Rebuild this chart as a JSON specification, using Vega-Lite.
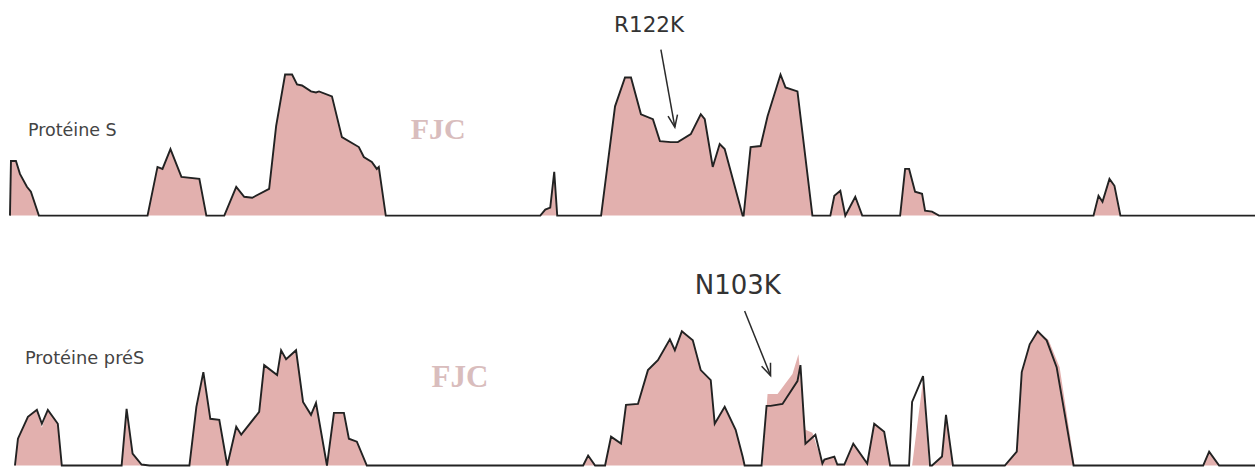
{
  "$schema": "https://vega.github.io/schema/vega-lite/v6.json",
  "autosize": {"type": "fit", "contains": "padding"},
  "width": 1259,
  "height": 470,
  "padding": 0,
  "background": "white",
  "config": {"view": {"stroke": null}},
  "datasets": {
    "topProfile": [
      {"x": 10, "v": 0}, {"x": 11, "v": 55}, {"x": 16, "v": 55}, {"x": 20, "v": 42}, {"x": 27, "v": 29}, {"x": 31, "v": 24}, {"x": 39, "v": 0},
      {"x": 148, "v": 0}, {"x": 158, "v": 49}, {"x": 163, "v": 47}, {"x": 171, "v": 67}, {"x": 182, "v": 39}, {"x": 200, "v": 37}, {"x": 207, "v": 0},
      {"x": 225, "v": 0}, {"x": 237, "v": 29}, {"x": 245, "v": 19}, {"x": 253, "v": 18}, {"x": 270, "v": 27}, {"x": 277, "v": 90}, {"x": 286, "v": 142}, {"x": 293, "v": 142}, {"x": 298, "v": 132}, {"x": 303, "v": 131}, {"x": 312, "v": 125}, {"x": 317, "v": 124}, {"x": 320, "v": 125}, {"x": 333, "v": 120}, {"x": 343, "v": 79}, {"x": 360, "v": 69}, {"x": 365, "v": 59}, {"x": 373, "v": 54}, {"x": 378, "v": 47}, {"x": 380, "v": 49}, {"x": 387, "v": 0},
      {"x": 542, "v": 0}, {"x": 547, "v": 6}, {"x": 552, "v": 8}, {"x": 556, "v": 44}, {"x": 559, "v": 0},
      {"x": 603, "v": 0}, {"x": 617, "v": 110}, {"x": 627, "v": 139}, {"x": 633, "v": 139}, {"x": 643, "v": 102}, {"x": 655, "v": 97}, {"x": 662, "v": 75}, {"x": 673, "v": 74}, {"x": 680, "v": 74}, {"x": 693, "v": 82}, {"x": 703, "v": 102}, {"x": 707, "v": 97}, {"x": 715, "v": 49}, {"x": 722, "v": 72}, {"x": 727, "v": 67}, {"x": 745, "v": 0},
      {"x": 746, "v": 0}, {"x": 753, "v": 69}, {"x": 763, "v": 70}, {"x": 770, "v": 100}, {"x": 783, "v": 142}, {"x": 788, "v": 129}, {"x": 800, "v": 125}, {"x": 815, "v": 0},
      {"x": 833, "v": 0}, {"x": 837, "v": 20}, {"x": 843, "v": 25}, {"x": 848, "v": 0}, {"x": 858, "v": 19}, {"x": 865, "v": 0},
      {"x": 903, "v": 0}, {"x": 908, "v": 47}, {"x": 912, "v": 47}, {"x": 918, "v": 24}, {"x": 925, "v": 22}, {"x": 928, "v": 5}, {"x": 935, "v": 4}, {"x": 942, "v": 0},
      {"x": 1097, "v": 0}, {"x": 1102, "v": 20}, {"x": 1106, "v": 14}, {"x": 1113, "v": 37}, {"x": 1118, "v": 30}, {"x": 1124, "v": 0},
      {"x": 1259, "v": 0}
    ],
    "botLine": [
      {"x": 15, "v": 0}, {"x": 18, "v": 27}, {"x": 28, "v": 49}, {"x": 37, "v": 56}, {"x": 42, "v": 42}, {"x": 48, "v": 56}, {"x": 58, "v": 42}, {"x": 62, "v": 0},
      {"x": 122, "v": 0}, {"x": 127, "v": 57}, {"x": 133, "v": 12}, {"x": 142, "v": 1}, {"x": 150, "v": 0},
      {"x": 190, "v": 0}, {"x": 197, "v": 59}, {"x": 204, "v": 94}, {"x": 211, "v": 47}, {"x": 220, "v": 46}, {"x": 228, "v": 0},
      {"x": 237, "v": 39}, {"x": 242, "v": 31}, {"x": 260, "v": 54}, {"x": 265, "v": 101}, {"x": 278, "v": 91}, {"x": 282, "v": 116}, {"x": 287, "v": 107}, {"x": 297, "v": 116}, {"x": 304, "v": 64}, {"x": 312, "v": 51}, {"x": 317, "v": 63}, {"x": 328, "v": 0},
      {"x": 335, "v": 53}, {"x": 345, "v": 53}, {"x": 350, "v": 27}, {"x": 358, "v": 24}, {"x": 368, "v": 0},
      {"x": 585, "v": 0}, {"x": 590, "v": 10}, {"x": 597, "v": 0},
      {"x": 607, "v": 0}, {"x": 613, "v": 29}, {"x": 623, "v": 22}, {"x": 628, "v": 61}, {"x": 640, "v": 62}, {"x": 650, "v": 96}, {"x": 660, "v": 106}, {"x": 672, "v": 127}, {"x": 677, "v": 116}, {"x": 684, "v": 135}, {"x": 695, "v": 126}, {"x": 703, "v": 96}, {"x": 713, "v": 86}, {"x": 717, "v": 42}, {"x": 727, "v": 59}, {"x": 738, "v": 36}, {"x": 745, "v": 9}, {"x": 747, "v": 0},
      {"x": 764, "v": 0}, {"x": 769, "v": 60}, {"x": 773, "v": 60}, {"x": 785, "v": 62}, {"x": 800, "v": 85}, {"x": 803, "v": 101}, {"x": 808, "v": 22}, {"x": 818, "v": 31}, {"x": 825, "v": 2},
      {"x": 827, "v": 6}, {"x": 837, "v": 9}, {"x": 840, "v": 1}, {"x": 847, "v": 1}, {"x": 856, "v": 22}, {"x": 870, "v": 2}, {"x": 877, "v": 42}, {"x": 887, "v": 34}, {"x": 893, "v": 0},
      {"x": 912, "v": 0}, {"x": 915, "v": 64}, {"x": 926, "v": 90}, {"x": 933, "v": 0},
      {"x": 935, "v": 0}, {"x": 945, "v": 9}, {"x": 949, "v": 51}, {"x": 956, "v": 0},
      {"x": 1008, "v": 0}, {"x": 1020, "v": 14}, {"x": 1025, "v": 94}, {"x": 1033, "v": 122}, {"x": 1041, "v": 135}, {"x": 1050, "v": 126}, {"x": 1060, "v": 99}, {"x": 1077, "v": 0},
      {"x": 1207, "v": 0}, {"x": 1213, "v": 14}, {"x": 1223, "v": 0},
      {"x": 1259, "v": 0}
    ],
    "botFill": [
      {"x": 15, "v": 0}, {"x": 18, "v": 27}, {"x": 28, "v": 49}, {"x": 37, "v": 56}, {"x": 42, "v": 38}, {"x": 48, "v": 56}, {"x": 58, "v": 42}, {"x": 62, "v": 0},
      {"x": 122, "v": 0}, {"x": 127, "v": 57}, {"x": 133, "v": 12}, {"x": 142, "v": 1}, {"x": 150, "v": 0},
      {"x": 190, "v": 0}, {"x": 197, "v": 59}, {"x": 204, "v": 94}, {"x": 211, "v": 47}, {"x": 220, "v": 46}, {"x": 228, "v": 0},
      {"x": 237, "v": 39}, {"x": 242, "v": 31}, {"x": 260, "v": 54}, {"x": 265, "v": 101}, {"x": 278, "v": 91}, {"x": 282, "v": 116}, {"x": 287, "v": 107}, {"x": 297, "v": 116}, {"x": 304, "v": 64}, {"x": 312, "v": 51}, {"x": 317, "v": 63}, {"x": 328, "v": 0},
      {"x": 335, "v": 53}, {"x": 345, "v": 53}, {"x": 350, "v": 27}, {"x": 358, "v": 24}, {"x": 368, "v": 0},
      {"x": 585, "v": 0}, {"x": 590, "v": 10}, {"x": 597, "v": 0},
      {"x": 607, "v": 0}, {"x": 613, "v": 29}, {"x": 623, "v": 22}, {"x": 628, "v": 61}, {"x": 640, "v": 62}, {"x": 650, "v": 96}, {"x": 660, "v": 106}, {"x": 672, "v": 127}, {"x": 677, "v": 116}, {"x": 684, "v": 137}, {"x": 695, "v": 126}, {"x": 703, "v": 96}, {"x": 713, "v": 86}, {"x": 717, "v": 42}, {"x": 727, "v": 59}, {"x": 738, "v": 36}, {"x": 745, "v": 9}, {"x": 747, "v": 0},
      {"x": 765, "v": 0}, {"x": 770, "v": 72}, {"x": 780, "v": 72}, {"x": 795, "v": 92}, {"x": 801, "v": 112}, {"x": 808, "v": 36}, {"x": 815, "v": 33}, {"x": 825, "v": 2},
      {"x": 827, "v": 6}, {"x": 837, "v": 9}, {"x": 840, "v": 1}, {"x": 847, "v": 1}, {"x": 856, "v": 22}, {"x": 870, "v": 2}, {"x": 877, "v": 42}, {"x": 887, "v": 34}, {"x": 893, "v": 0},
      {"x": 915, "v": 0}, {"x": 926, "v": 86}, {"x": 932, "v": 0},
      {"x": 935, "v": 0}, {"x": 945, "v": 9}, {"x": 949, "v": 51}, {"x": 956, "v": 0},
      {"x": 1008, "v": 0}, {"x": 1020, "v": 14}, {"x": 1025, "v": 94}, {"x": 1033, "v": 122}, {"x": 1041, "v": 135}, {"x": 1052, "v": 126}, {"x": 1063, "v": 99}, {"x": 1078, "v": 0},
      {"x": 1207, "v": 0}, {"x": 1213, "v": 14}, {"x": 1223, "v": 0},
      {"x": 1259, "v": 0}
    ],
    "notes": [
      {"panel": "S", "kind": "name", "x": 28, "v": 80.5, "text": "Protéine S"},
      {"panel": "S", "kind": "mutation", "x": 616, "v": 184.3, "text": "R122K"},
      {"panel": "S", "kind": "watermark", "x": 412, "v": 77, "text": "FJC"},
      {"panel": "preS", "kind": "name", "x": 25, "v": 101.8, "text": "Protéine préS"},
      {"panel": "preS", "kind": "mutation", "x": 697, "v": 172.5, "text": "N103K"},
      {"panel": "preS", "kind": "watermark", "x": 433, "v": 79, "text": "FJC"}
    ],
    "arrows": [
      {"panel": "S", "x": 663, "v": 167, "x2": 677, "v2": 89},
      {"panel": "preS", "x": 747, "v": 155.5, "x2": 773, "v2": 90.5}
    ]
  },
  "encoding": {
    "x": {"field": "x", "type": "quantitative", "scale": {"domain": [0, 1259]}, "axis": null}
  },
  "layer": [
    {
      "encoding": {
        "y": {"field": "v", "type": "quantitative", "scale": {"domain": [-253, 217]}, "axis": null}
      },
      "layer": [
        {
          "data": {"name": "topProfile"},
          "mark": {"type": "area", "color": "#e2b0ae"},
          "encoding": {
            "y": {"field": "v", "type": "quantitative", "scale": {"domain": [-253, 217]}, "axis": null, "stack": null},
            "y2": {"datum": 0}
          }
        },
        {
          "data": {"name": "topProfile"},
          "mark": {"type": "line", "color": "#222222", "strokeWidth": 1.9}
        },
        {
          "data": {"name": "notes"},
          "transform": [{"filter": "datum.panel === 'S' && datum.kind === 'name'"}],
          "mark": {"type": "text", "font": "DejaVu Sans", "fontSize": 17.5, "color": "#444444", "align": "left", "baseline": "alphabetic"},
          "encoding": {"text": {"field": "text"}}
        },
        {
          "data": {"name": "notes"},
          "transform": [{"filter": "datum.panel === 'S' && datum.kind === 'mutation'"}],
          "mark": {"type": "text", "font": "DejaVu Sans", "fontSize": 21.5, "color": "#333333", "align": "left", "baseline": "alphabetic"},
          "encoding": {"text": {"field": "text"}}
        },
        {
          "data": {"name": "notes"},
          "transform": [{"filter": "datum.panel === 'S' && datum.kind === 'watermark'"}],
          "mark": {"type": "text", "font": "Liberation Serif", "fontWeight": "bold", "fontSize": 30, "color": "#d9bdbd", "align": "left", "baseline": "alphabetic"},
          "encoding": {"text": {"field": "text"}}
        },
        {
          "data": {"name": "arrows"},
          "transform": [{"filter": "datum.panel === 'S'"}],
          "mark": {"type": "rule", "color": "#2a2a2a", "strokeWidth": 1.5},
          "encoding": {
            "x2": {"field": "x2"},
            "y2": {"field": "v2"}
          }
        },
        {
          "data": {"name": "arrows"},
          "transform": [{"filter": "datum.panel === 'S'"}],
          "mark": {"type": "point", "shape": "M-0.8,-2L0,0L0.8,-2", "filled": false, "size": 144, "stroke": "#2a2a2a", "strokeWidth": 1.5, "angle": 350, "opacity": 1},
          "encoding": {
            "x": {"field": "x2", "type": "quantitative"},
            "y": {"field": "v2", "type": "quantitative"}
          }
        }
      ]
    },
    {
      "encoding": {
        "y": {"field": "v", "type": "quantitative", "scale": {"domain": [-1.5, 468.5]}, "axis": null}
      },
      "layer": [
        {
          "data": {"name": "botFill"},
          "mark": {"type": "area", "color": "#e2b0ae"},
          "encoding": {
            "y": {"field": "v", "type": "quantitative", "scale": {"domain": [-1.5, 468.5]}, "axis": null, "stack": null},
            "y2": {"datum": 0}
          }
        },
        {
          "data": {"name": "botLine"},
          "mark": {"type": "line", "color": "#222222", "strokeWidth": 1.9}
        },
        {
          "data": {"name": "notes"},
          "transform": [{"filter": "datum.panel === 'preS' && datum.kind === 'name'"}],
          "mark": {"type": "text", "font": "DejaVu Sans", "fontSize": 17.8, "color": "#444444", "align": "left", "baseline": "alphabetic"},
          "encoding": {"text": {"field": "text"}}
        },
        {
          "data": {"name": "notes"},
          "transform": [{"filter": "datum.panel === 'preS' && datum.kind === 'mutation'"}],
          "mark": {"type": "text", "font": "DejaVu Sans", "fontSize": 26, "color": "#333333", "align": "left", "baseline": "alphabetic"},
          "encoding": {"text": {"field": "text"}}
        },
        {
          "data": {"name": "notes"},
          "transform": [{"filter": "datum.panel === 'preS' && datum.kind === 'watermark'"}],
          "mark": {"type": "text", "font": "Liberation Serif", "fontWeight": "bold", "fontSize": 31, "color": "#d9bdbd", "align": "left", "baseline": "alphabetic"},
          "encoding": {"text": {"field": "text"}}
        },
        {
          "data": {"name": "arrows"},
          "transform": [{"filter": "datum.panel === 'preS'"}],
          "mark": {"type": "rule", "color": "#2a2a2a", "strokeWidth": 1.5},
          "encoding": {
            "x2": {"field": "x2"},
            "y2": {"field": "v2"}
          }
        },
        {
          "data": {"name": "arrows"},
          "transform": [{"filter": "datum.panel === 'preS'"}],
          "mark": {"type": "point", "shape": "M-0.8,-2L0,0L0.8,-2", "filled": false, "size": 144, "stroke": "#2a2a2a", "strokeWidth": 1.5, "angle": 338, "opacity": 1},
          "encoding": {
            "x": {"field": "x2", "type": "quantitative"},
            "y": {"field": "v2", "type": "quantitative"}
          }
        }
      ]
    }
  ],
  "resolve": {"scale": {"y": "independent"}}
}
